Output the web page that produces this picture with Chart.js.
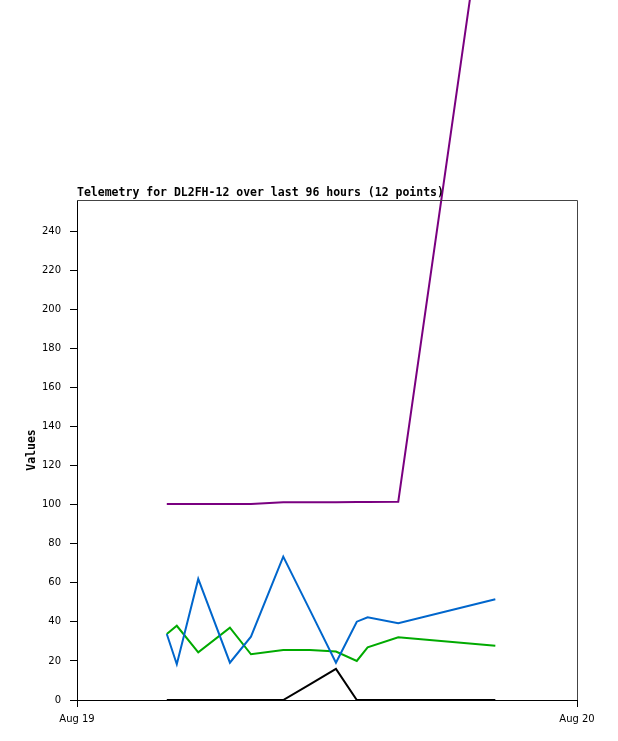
<!DOCTYPE html>
<html>
<head>
<meta charset="utf-8">
<script src="https://cdn.jsdelivr.net/npm/chart.js@4"></script>
<style>
  html, body { margin: 0; padding: 0; background: #fff; }
  #wrap { width: 618px; height: 741px; }
</style>
</head>
<body>
<div id="wrap"><canvas id="telemetry"></canvas></div>
<script>
// hours after Aug 19 00:00
const hours = [4.31, 4.79, 5.82, 7.34, 8.35, 9.9, 11.18, 12.43, 13.43, 13.95, 15.42, 20.08];
const purpleVals = [100.3, 100.3, 100.3, 100.3, 100.4, 101.2, 101.3, 101.3, 101.4, 101.4, 101.5, 450];
const blueVals = [33.8, 18.3, 62.0, 19.1, 32.4, 73.4, 46.0, 19.1, 40.1, 42.3, 39.3, 51.6];
const greenVals = [33.8, 38.0, 24.4, 37.0, 23.4, 25.6, 25.6, 24.8, 20.0, 27.0, 32.1, 27.8];
const blackVals = [0, 0, 0, 0, 0, 0, 8, 15.9, 0, 0, 0, 0];
const xTickValues = [0, 24];
const xTickLabels = ["Aug 19", "Aug 20"];
const titleText = "Telemetry for DL2FH-12 over last 96 hours (12 points)";

const pts = vals => vals.map((v, i) => ({ x: hours[i], y: v }));
const line = (vals, color) => ({
    data: pts(vals),
    borderColor: color,
    borderWidth: 2,
    pointRadius: 0,
    tension: 0,
    clip: false,
});

const frameAndTitle = {
    id: "frameAndTitle",
    afterDraw(chart) {
        const { ctx, chartArea: a } = chart;
        ctx.save();
        ctx.strokeStyle = "#444";
        ctx.lineWidth = 1;
        ctx.beginPath();
        ctx.moveTo(a.left, a.top + 0.5);
        ctx.lineTo(a.right + 0.5, a.top + 0.5);
        ctx.lineTo(a.right + 0.5, a.bottom);
        ctx.stroke();
        ctx.fillStyle = "#000";
        ctx.font = "bold 11.5px 'DejaVu Sans Mono'";
        ctx.textBaseline = "alphabetic";
        ctx.fillText(titleText, a.left, a.top - 4);
        ctx.restore();
    },
};

new Chart(document.getElementById("telemetry"), {
    type: "line",
    data: {
        datasets: [
            line(purpleVals, "#7a0080"),
            line(blueVals, "#0066cc"),
            line(greenVals, "#00aa00"),
            line(blackVals, "#000000"),
        ],
    },
    options: {
        responsive: true,
        maintainAspectRatio: false,
        animation: false,
        layout: { padding: { top: 200, right: 41, left: 0, bottom: 0 } },
        plugins: { legend: { display: false }, tooltip: { enabled: false }, title: { display: false } },
        scales: {
            x: {
                type: "linear",
                min: 0,
                max: 24,
                afterBuildTicks: s => { s.ticks = xTickValues.map(v => ({ value: v })); },
                afterFit: s => { s.height = 41; },
                ticks: {
                    autoSkip: false,
                    maxRotation: 0,
                    padding: 6,
                    color: "#000",
                    font: { family: "DejaVu Sans", size: 10 },
                    callback: v => xTickLabels[xTickValues.indexOf(v)],
                },
                grid: { drawOnChartArea: false, drawTicks: true, tickLength: 7, color: "#000" },
                border: { display: true, color: "#000" },
            },
            y: {
                min: 0,
                max: 256,
                afterBuildTicks: s => { s.ticks = s.ticks.filter(t => t.value % 20 === 0); },
                afterFit: s => { s.width = 77; },
                ticks: {
                    stepSize: 20,
                    padding: 9,
                    color: "#000",
                    font: { family: "DejaVu Sans", size: 10 },
                },
                title: {
                    display: true,
                    text: "Values",
                    color: "#000",
                    font: { family: "DejaVu Sans Mono", size: 11.5, weight: "bold" },
                    padding: { top: 25, bottom: 0 },
                },
                grid: { drawOnChartArea: false, drawTicks: true, tickLength: 7, color: "#000" },
                border: { display: true, color: "#000" },
            },
        },
    },
    plugins: [frameAndTitle],
});
</script>
</body>
</html>
